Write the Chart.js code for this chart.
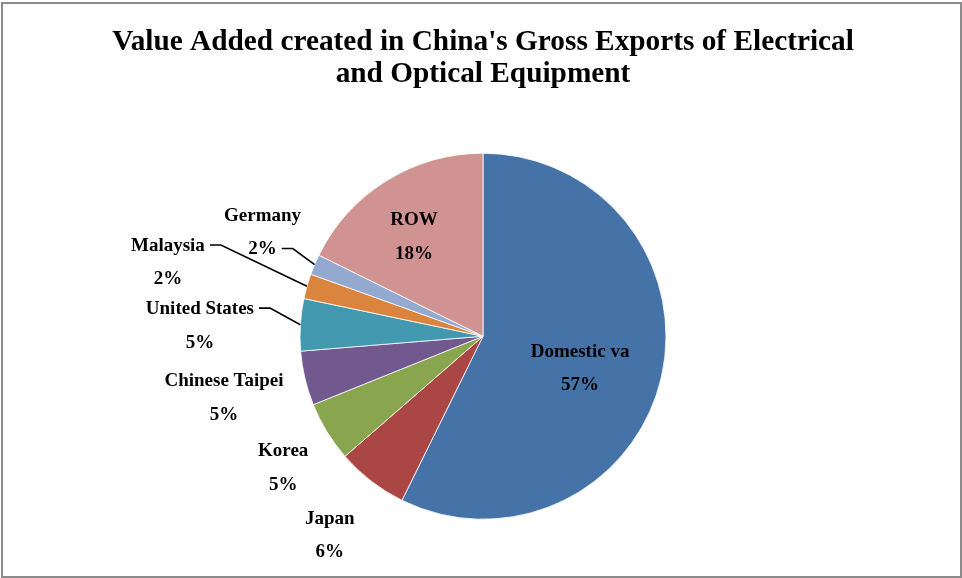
<!DOCTYPE html>
<html>
<head>
<meta charset="utf-8">
<script src="https://cdn.jsdelivr.net/npm/chart.js@4.4.1/dist/chart.umd.min.js"></script>
<style>
  html, body { margin: 0; padding: 0; background: #ffffff; }
  #frame {
    position: absolute; left: 1px; top: 2px;
    width: 961px; height: 576px;
    box-sizing: border-box;
    border: 2px solid #8c8c8c;
  }
  #wrap { position: absolute; left: 0; top: 0; width: 962px; height: 578px; }
</style>
</head>
<body>
<div id="frame"></div>
<div id="wrap"><canvas id="pieChart"></canvas></div>
<script>
// Données du graphique (parts en %)
const categories = ['Domestic va', 'Japan', 'Korea', 'Chinese Taipei', 'United States', 'Malaysia', 'Germany', 'ROW'];
const shares = [57.3, 6.3, 5.3, 4.8, 4.6, 2.2, 1.8, 17.7];
const sliceColors = ['#4572A7', '#AA4643', '#89A54E', '#71588F', '#4198AF', '#DB843D', '#93A9CF', '#D19392'];
const chartTitle = ["Value Added created in China's Gross Exports of Electrical", 'and Optical Equipment'];

// Placement des étiquettes : [distance / rayon, décalage d'angle en degrés, ligne de rappel (index de ligne ou null)]
const labelPlacement = [
    [0.559, 5.3, null],
    [1.374, -0.1, null],
    [1.308, -1.9, null],
    [1.455, -0.1, null],
    [1.548, -1.5, 0],
    [1.768, -2.7, 0],
    [1.331, 2.1, 1],
    [0.661, -2.9, null]
];

const serif = '"Liberation Serif", "Times New Roman", serif';

const pieLabels = {
    id: 'pieLabels',
    afterDatasetsDraw(chart) {
        const ctx = chart.ctx;
        const meta = chart.getDatasetMeta(0);
        const total = shares.reduce((a, b) => a + b, 0);
        ctx.save();
        ctx.font = 'bold 19px ' + serif;
        ctx.fillStyle = '#000000';
        ctx.strokeStyle = '#000000';
        ctx.lineWidth = 1.6;
        ctx.textAlign = 'center';
        ctx.textBaseline = 'middle';
        meta.data.forEach((arc, i) => {
            const {x, y, startAngle, endAngle, outerRadius} = arc.getProps(['x', 'y', 'startAngle', 'endAngle', 'outerRadius'], true);
            const mid = (startAngle + endAngle) / 2;
            const [factor, adj, leader] = labelPlacement[i];
            const a = mid + adj * Math.PI / 180;
            const cx = x + Math.cos(a) * outerRadius * factor;
            const cy = y + Math.sin(a) * outerRadius * factor;
            const lines = [categories[i], Math.round(shares[i] / total * 100) + '%'];
            const gap = 33.5;
            lines.forEach((t, k) => {
                ctx.fillText(t, cx, cy + (k - 0.5) * gap);
            });
            // ligne de rappel vers le bord de la part
            if (leader !== null) {
                const ly = cy + (leader - 0.5) * gap - 1;
                const w = ctx.measureText(lines[leader]).width;
                const sx = cx + w / 2 + 5;
                ctx.beginPath();
                ctx.moveTo(sx, ly);
                ctx.lineTo(sx + 11, ly);
                ctx.lineTo(x + Math.cos(mid) * outerRadius, y + Math.sin(mid) * outerRadius);
                ctx.stroke();
            }
        });
        ctx.restore();
    }
};

const ctx = document.getElementById('pieChart').getContext('2d');
const chart = new Chart(ctx, {
    type: 'pie',
    data: {
        labels: categories,
        datasets: [{
            data: shares,
            backgroundColor: sliceColors,
            borderColor: '#ffffff',
            borderWidth: 0.8,
            radius: 183
        }]
    },
    options: {
        responsive: true,
        maintainAspectRatio: false,
        animation: false,
        events: [],
        layout: { padding: { left: 4, right: 0, top: 0, bottom: 16 } },
        plugins: {
            legend: { display: false },
            tooltip: { enabled: false },
            title: {
                display: true,
                text: chartTitle,
                color: '#000000',
                font: { family: serif, size: 29.3, weight: 'bold', lineHeight: 1.1 },
                padding: { top: 26, bottom: 20 }
            }
        }
    },
    plugins: [pieLabels]
});
</script>
</body>
</html>
